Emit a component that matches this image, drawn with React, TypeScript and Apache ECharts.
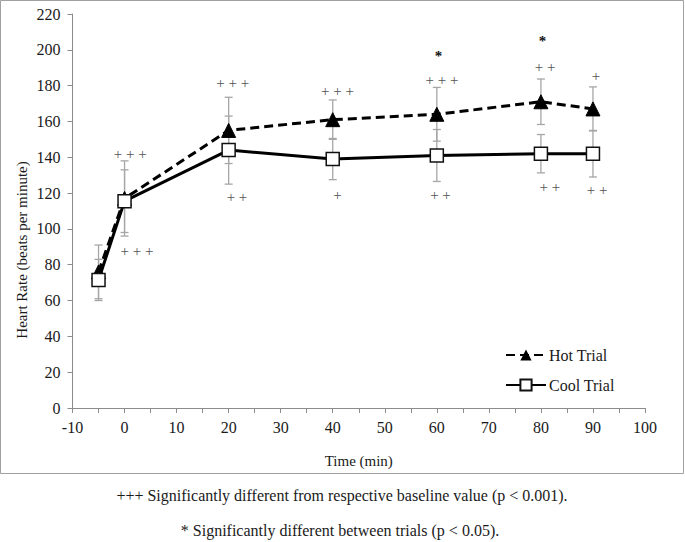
import React, { useEffect, useRef } from "react";
import * as echarts from "echarts";

const times = [-5, 0, 20, 40, 60, 80, 90];
const hotMean = [76, 117, 155, 161, 164, 171, 167];
const hotSD = [15, 21, 18.5, 11, 15, 12.7, 12.3];
const coolMean = [71.5, 115.5, 144, 139, 141, 142, 142];
const coolSD = [11.5, 17.5, 19, 11.5, 14.5, 10.7, 13];

const annX = [1.1, 2.4, 20.8, 21.6, 40.9, 40.9, 61, 60.7, 80.8, 81.7, 90.6, 90.8];
const annY = [142, 87.4, 181.7, 118, 177, 119, 183, 118.8, 190.5, 123.3, 185.5, 121.8];
const annText = ["+ + +", "+ + +", "+ + +", "+ +", "+ + +", "+", "+ + +", "+ +", "+ +", "+ +", "+", "+ +"];
const starX = [60.3, 80.3];
const starY = [196.6, 205];

const FONT = "Liberation Serif";

export default function App() {
  const ref = useRef<HTMLDivElement>(null);
  useEffect(() => {
    document.body.style.margin = "0";
    const chart = echarts.init(ref.current!, null, { renderer: "svg" });
    const errData = (m: number[], s: number[]) =>
      times.map((t, i) => [t, m[i] - s[i], m[i] + s[i]]);
    const errSeries = (name: string, m: number[], s: number[]) => ({
      type: "custom",
      name,
      silent: true,
      z: 1,
      data: errData(m, s),
      renderItem: (params: any, api: any) => {
        const x = api.value(0);
        const lo = api.coord([x, api.value(1)]);
        const hi = api.coord([x, api.value(2)]);
        const w = 4;
        const st = { stroke: "#a6a6a6", lineWidth: 1.3 };
        return {
          type: "group",
          children: [
            { type: "line", shape: { x1: lo[0], y1: lo[1], x2: hi[0], y2: hi[1] }, style: st },
            { type: "line", shape: { x1: lo[0] - w, y1: lo[1], x2: lo[0] + w, y2: lo[1] }, style: st },
            { type: "line", shape: { x1: hi[0] - w, y1: hi[1], x2: hi[0] + w, y2: hi[1] }, style: st },
          ],
        };
      },
    });
    const textSeries = (name: string, xs: number[], ys: number[], texts: string[], color: string, weight: string) => ({
      type: "custom",
      name,
      silent: true,
      z: 5,
      data: xs.map((x, i) => [x, ys[i], i]),
      renderItem: (params: any, api: any) => {
        const p = api.coord([api.value(0), api.value(1)]);
        return {
          type: "text",
          x: p[0],
          y: p[1],
          style: {
            text: texts[api.value(2)],
            fill: color,
            font: `${weight} 15px ${FONT}`,
            align: "center",
            verticalAlign: "middle",
          },
        };
      },
    });
    const option: any = {
      animation: false,
      textStyle: { fontFamily: FONT },
      grid: { left: 72.5, right: 40, top: 14, bottom: 134, containLabel: false },
      xAxis: {
        type: "value",
        min: -10,
        max: 100,
        interval: 10,
        axisLine: { show: true, onZero: false, lineStyle: { color: "#8c8c8c", width: 1 } },
        axisTick: { show: true, length: 5, lineStyle: { color: "#8c8c8c" } },
        minorTick: { show: true, splitNumber: 2, length: 5, lineStyle: { color: "#8c8c8c" } },
        splitLine: { show: false },
        axisLabel: { color: "#1a1a1a", fontSize: 16, fontFamily: FONT, margin: 11 },
        name: "Time (min)",
        nameLocation: "middle",
        nameGap: 45,
        nameTextStyle: { color: "#1a1a1a", fontSize: 15, fontFamily: FONT },
      },
      yAxis: {
        type: "value",
        min: 0,
        max: 220,
        interval: 20,
        axisLine: { show: true, onZero: false, lineStyle: { color: "#8c8c8c", width: 1 } },
        axisTick: { show: true, length: 5, lineStyle: { color: "#8c8c8c" } },
        splitLine: { show: false },
        axisLabel: { color: "#1a1a1a", fontSize: 16, fontFamily: FONT, margin: 12 },
      },
      legend: {
        orient: "vertical",
        left: 500,
        top: 342,
        itemWidth: 40,
        itemHeight: 14,
        itemGap: 14,
        data: ["Hot Trial", "Cool Trial"],
        textStyle: { color: "#1a1a1a", fontSize: 16, fontFamily: FONT, padding: [0, 0, 0, -2] },
      },
      series: [
        errSeries("hotErr", hotMean, hotSD),
        errSeries("coolErr", coolMean, coolSD),
        {
          type: "line",
          name: "Hot Trial",
          z: 3,
          data: times.map((t, i) => [t, hotMean[i]]),
          symbol: "triangle",
          symbolSize: 14,
          itemStyle: { color: "#000", borderColor: "#000" },
          lineStyle: { color: "#000", width: 3, type: [9, 5] },
        },
        {
          type: "line",
          name: "Cool Trial",
          z: 4,
          data: times.map((t, i) => [t, coolMean[i]]),
          symbol: "rect",
          symbolSize: 13,
          itemStyle: { color: "#fff", borderColor: "#111", borderWidth: 1.5 },
          lineStyle: { color: "#000", width: 3 },
        },
        textSeries("ann", annX, annY, annText, "#555", "normal"),
        textSeries("star", starX, starY, ["*", "*"], "#111", "bold"),
      ],
      graphic: [
        {
          type: "rect",
          shape: { x: 0.5, y: 0.5, width: 683, height: 473 },
          style: { fill: "none", stroke: "#a0a0a0", lineWidth: 1 },
          silent: true,
        },
        {
          type: "text",
          x: 22,
          y: 250,
          rotation: Math.PI / 2,
          style: {
            text: "Heart Rate (beats per minute)",
            fill: "#1a1a1a",
            font: `15px ${FONT}`,
            align: "center",
            verticalAlign: "middle",
          },
        },
        {
          type: "text",
          x: 342,
          y: 495,
          style: {
            text: "+++ Significantly different from respective baseline value (p < 0.001).",
            fill: "#1a1a1a",
            font: `16px ${FONT}`,
            align: "center",
            verticalAlign: "middle",
          },
        },
        {
          type: "text",
          x: 340,
          y: 530,
          style: {
            text: "* Significantly different between trials (p < 0.05).",
            fill: "#1a1a1a",
            font: `16px ${FONT}`,
            align: "center",
            verticalAlign: "middle",
          },
        },
      ],
    };
    chart.setOption(option);
    return () => chart.dispose();
  }, []);
  return <div ref={ref} style={{ width: 685, height: 542, background: "#fff" }} />;
}
